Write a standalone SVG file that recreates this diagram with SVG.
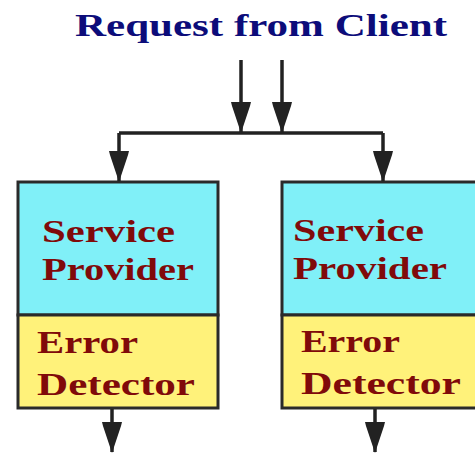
<svg xmlns="http://www.w3.org/2000/svg" width="475" height="455" viewBox="0 0 475 455">
  <style>
    .title { font-family: "Liberation Serif", "Times New Roman", serif; font-weight: bold; font-size: 32px; fill: #0c0c7a; }
    .lbl { font-family: "Liberation Serif", "Times New Roman", serif; font-weight: bold; font-size: 32px; fill: #800a0a; }
    .svc { fill: #80f0f8; stroke: #2a2a2a; stroke-width: 3; }
    .err { fill: #fff27a; stroke: #2a2a2a; stroke-width: 3; }
    .wire { fill: none; stroke: #222; stroke-width: 3.5; }
  </style>
  <defs>
    <marker id="arrow" markerUnits="userSpaceOnUse" viewBox="0 -11 32 22" refX="30" refY="0" markerWidth="32" markerHeight="22" orient="auto">
      <path d="M0,-10 L4,-9 L31,0 L4,9 L0,10 Z" fill="#222"/>
    </marker>
  </defs>
  <rect width="475" height="455" fill="#ffffff"/>

  <g id="title">
    <text class="title" x="75" y="36" textLength="372" lengthAdjust="spacingAndGlyphs">Request from Client</text>
  </g>

  <g id="left-service">
    <rect class="svc" x="18" y="182" width="200" height="133"/>
    <text class="lbl" x="42" y="242" textLength="133" lengthAdjust="spacingAndGlyphs">Service</text>
    <text class="lbl" x="42" y="280" textLength="152" lengthAdjust="spacingAndGlyphs">Provider</text>
  </g>
  <g id="left-error">
    <rect class="err" x="18" y="315" width="200" height="93"/>
    <text class="lbl" x="37" y="353" textLength="101" lengthAdjust="spacingAndGlyphs">Error</text>
    <text class="lbl" x="37" y="395" textLength="158" lengthAdjust="spacingAndGlyphs">Detector</text>
  </g>

  <g id="right-service">
    <rect class="svc" x="282" y="182" width="200" height="133"/>
    <text class="lbl" x="293" y="241" textLength="131" lengthAdjust="spacingAndGlyphs">Service</text>
    <text class="lbl" x="293" y="279" textLength="154" lengthAdjust="spacingAndGlyphs">Provider</text>
  </g>
  <g id="right-error">
    <rect class="err" x="282" y="315" width="200" height="93"/>
    <text class="lbl" x="301" y="352" textLength="99" lengthAdjust="spacingAndGlyphs">Error</text>
    <text class="lbl" x="301" y="394" textLength="160" lengthAdjust="spacingAndGlyphs">Detector</text>
  </g>

  <g id="connectors">
    <path class="wire" d="M241,60 V132" marker-end="url(#arrow)"/>
    <path class="wire" d="M282,60 V132" marker-end="url(#arrow)"/>
    <path class="wire" d="M119,133 H383"/>
    <path class="wire" d="M119,133 V181" marker-end="url(#arrow)"/>
    <path class="wire" d="M383,133 V181" marker-end="url(#arrow)"/>
    <path class="wire" d="M112,409 V452" marker-end="url(#arrow)"/>
    <path class="wire" d="M375,409 V452" marker-end="url(#arrow)"/>
  </g>
</svg>
